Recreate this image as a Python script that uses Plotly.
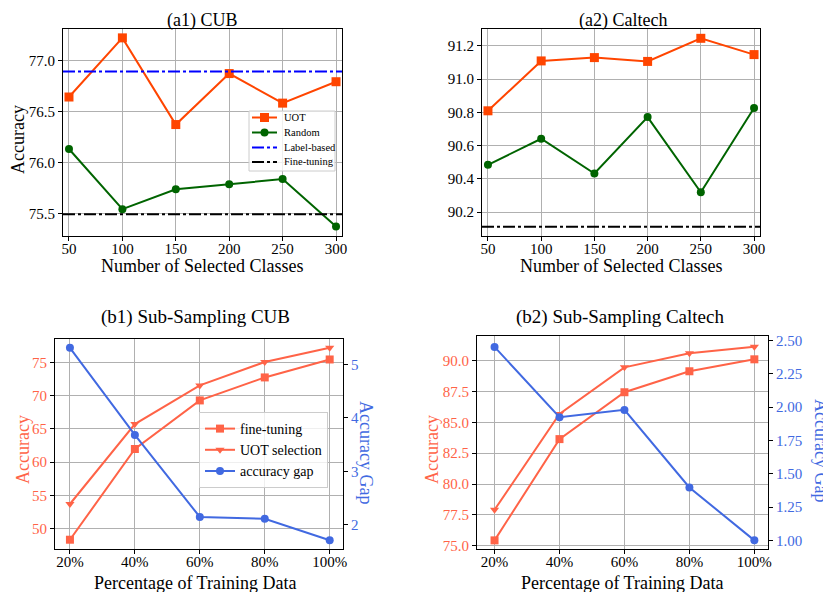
import plotly.graph_objects as go

# ---------------- data ----------------
classes = [50, 100, 150, 200, 250, 300]
cub_uot = [76.64, 77.22, 76.37, 76.87, 76.58, 76.79]
cub_random = [76.13, 75.54, 75.735, 75.785, 75.835, 75.37]
cub_label_based = 76.89
cub_finetune = 75.49

cal_uot = [90.81, 91.11, 91.13, 91.107, 91.246, 91.148]
cal_random = [90.485, 90.642, 90.433, 90.772, 90.32, 90.827]
cal_finetune = 90.113

pct = [20, 40, 60, 80, 100]
pct_labels = ["20%", "40%", "60%", "80%", "100%"]
b1_finetune = [48.29, 61.98, 69.31, 72.78, 75.49]
b1_uot = [53.68, 65.75, 71.58, 75.11, 77.27]
b1_gap = [5.31, 3.68, 2.144, 2.11, 1.71]

b2_finetune = [75.43, 83.64, 87.44, 89.14, 90.11]
b2_uot = [77.91, 85.68, 89.46, 90.60, 91.13]
b2_gap = [2.453, 1.925, 1.98, 1.397, 1.00]

a1_legend_names = ["UOT", "Random", "Label-based", "Fine-tuning"]

# ---------------- style ----------------
FONT = "Liberation Serif"
W, H = 831, 592
OFF = 8  # page body margin
ORANGE = "#FF4500"
GREEN = "#006400"
BLUE = "#0000FF"
TOMATO = "#FF6347"
ROYAL = "#4169E1"
DASHDOT = "12px,3px,3px,3px"

def fx(px):
    return (px - OFF) / W

def fy(py):
    return 1 - (py - OFF) / H

def px_x(a, b):
    return [fx(a), fx(b)]

def px_y(top, bottom):
    return [fy(bottom), fy(top)]

fig = go.Figure()

# ---- (a1) CUB ----
fig.add_trace(go.Scatter(x=classes, y=cub_uot, name="UOT", mode="lines+markers", showlegend=False,
                         line=dict(color=ORANGE, width=2), marker=dict(symbol="square", size=9, color=ORANGE),
                         xaxis="x", yaxis="y"))
fig.add_trace(go.Scatter(x=classes, y=cub_random, name="Random", mode="lines+markers", showlegend=False,
                         line=dict(color=GREEN, width=2), marker=dict(symbol="circle", size=8, color=GREEN),
                         xaxis="x", yaxis="y"))

# ---- (a2) Caltech ----
fig.add_trace(go.Scatter(x=classes, y=cal_uot, name="UOT", mode="lines+markers", showlegend=False,
                         line=dict(color=ORANGE, width=2), marker=dict(symbol="square", size=9, color=ORANGE),
                         xaxis="x2", yaxis="y2"))
fig.add_trace(go.Scatter(x=classes, y=cal_random, name="Random", mode="lines+markers", showlegend=False,
                         line=dict(color=GREEN, width=2), marker=dict(symbol="circle", size=8, color=GREEN),
                         xaxis="x2", yaxis="y2"))

# ---- (b1) ----
fig.add_trace(go.Scatter(x=pct, y=b1_finetune, name="fine-tuning", mode="lines+markers",
                         line=dict(color=TOMATO, width=2), marker=dict(symbol="square", size=8, color=TOMATO),
                         xaxis="x3", yaxis="y3"))
fig.add_trace(go.Scatter(x=pct, y=b1_uot, name="UOT selection", mode="lines+markers",
                         line=dict(color=TOMATO, width=2), marker=dict(symbol="triangle-down", size=8, color=TOMATO),
                         xaxis="x3", yaxis="y3"))
fig.add_trace(go.Scatter(x=pct, y=b1_gap, name="accuracy gap", mode="lines+markers",
                         line=dict(color=ROYAL, width=2), marker=dict(symbol="circle", size=8, color=ROYAL),
                         xaxis="x3", yaxis="y4"))

# ---- (b2) ----
fig.add_trace(go.Scatter(x=pct, y=b2_finetune, name="fine-tuning", mode="lines+markers", showlegend=False,
                         line=dict(color=TOMATO, width=2), marker=dict(symbol="square", size=8, color=TOMATO),
                         xaxis="x4", yaxis="y5"))
fig.add_trace(go.Scatter(x=pct, y=b2_uot, name="UOT selection", mode="lines+markers", showlegend=False,
                         line=dict(color=TOMATO, width=2), marker=dict(symbol="triangle-down", size=8, color=TOMATO),
                         xaxis="x4", yaxis="y5"))
fig.add_trace(go.Scatter(x=pct, y=b2_gap, name="accuracy gap", mode="lines+markers", showlegend=False,
                         line=dict(color=ROYAL, width=2), marker=dict(symbol="circle", size=8, color=ROYAL),
                         xaxis="x4", yaxis="y6"))

# horizontal reference lines
shapes = [
    dict(type="line", xref="x domain", yref="y", x0=0, x1=1, y0=cub_label_based, y1=cub_label_based,
         line=dict(color=BLUE, width=2, dash=DASHDOT)),
    dict(type="line", xref="x domain", yref="y", x0=0, x1=1, y0=cub_finetune, y1=cub_finetune,
         line=dict(color="black", width=2, dash=DASHDOT)),
    dict(type="line", xref="x2 domain", yref="y2", x0=0, x1=1, y0=cal_finetune, y1=cal_finetune,
         line=dict(color="black", width=2, dash=DASHDOT)),
]

# ---- compact legend for (a1), matplotlib-like ----
LG_L, LG_R, LG_T, LG_B = 249, 335, 111, 171
shapes.append(dict(type="rect", xref="paper", yref="paper", x0=fx(LG_L), x1=fx(LG_R), y0=fy(LG_B), y1=fy(LG_T),
                   fillcolor="rgba(255,255,255,0.8)", line=dict(color="#cccccc", width=1)))
lg_rows = [117.5, 132.5, 147.5, 162.0]
lg_styles = [(ORANGE, "solid", "square"), (GREEN, "solid", "circle"),
             (BLUE, DASHDOT, None), ("black", DASHDOT, None)]
legend_annotations = []
for name, row, (col, dash, mk) in zip(a1_legend_names, lg_rows, lg_styles):
    shapes.append(dict(type="line", xref="paper", yref="paper", x0=fx(252), x1=fx(277), y0=fy(row), y1=fy(row),
                       line=dict(color=col, width=2, dash=dash)))
    if mk == "square":
        shapes.append(dict(type="rect", xref="paper", yref="paper", x0=fx(260), x1=fx(269),
                           y0=fy(row + 4.5), y1=fy(row - 4.5), fillcolor=col, line=dict(width=0)))
    elif mk == "circle":
        shapes.append(dict(type="circle", xref="paper", yref="paper", x0=fx(260.5), x1=fx(268.5),
                           y0=fy(row + 4), y1=fy(row - 4), fillcolor=col, line=dict(width=0)))
    legend_annotations.append(dict(text=name, x=fx(282), y=fy(row), xref="paper", yref="paper",
                                   showarrow=False, xanchor="left", yanchor="middle",
                                   font=dict(family=FONT, size=10.5, color="black")))

tickfont = dict(family=FONT, size=15, color="black")
base_ax = dict(showline=True, linecolor="black", linewidth=1, mirror=True, showgrid=True,
               gridcolor="#b0b0b0", gridwidth=1, ticks="outside", ticklen=4, tickcolor="black",
               zeroline=False, tickfont=tickfont, automargin=False)

def xax(domain, rng, anchor, tickvals, ticktext=None):
    d = dict(base_ax, domain=domain, range=rng, anchor=anchor, tickvals=tickvals, ticklabelstandoff=-5)
    if ticktext is not None:
        d["ticktext"] = ticktext
    return d

def yax(domain, rng, anchor, tickvals, fmt, color="black"):
    return dict(base_ax, domain=domain, range=rng, anchor=anchor, tickvals=tickvals, tickformat=fmt,
                tickfont=dict(family=FONT, size=15, color=color))

a1x = px_x(63, 342); a1y = px_y(29, 236)
a2x = px_x(482, 760); a2y = px_y(29, 236)
b1x = px_x(55, 343); b1y = px_y(339, 549)
b2x = px_x(477, 768); b2y = px_y(336, 549)

layout = dict(
    width=W, height=H, margin=dict(l=0, r=0, t=0, b=0, autoexpand=False),
    paper_bgcolor="white", plot_bgcolor="white",
    font=dict(family=FONT, color="black"),
    xaxis=xax(a1x, [44.4, 305.6], "y", classes),
    yaxis=yax(a1y, [75.277, 77.307], "x", [75.5, 76.0, 76.5, 77.0], ".1f"),
    xaxis2=xax(a2x, [44.4, 305.6], "y2", classes),
    yaxis2=yax(a2y, [90.057, 91.302], "x2", [90.2, 90.4, 90.6, 90.8, 91.0, 91.2], ".1f"),
    xaxis3=xax(b1x, [15.4, 104.1], "y3", pct, pct_labels),
    yaxis3=yax(b1y, [46.89, 78.58], "x3", [50, 55, 60, 65, 70, 75], "d", TOMATO),
    yaxis4=dict(yax(b1y, [1.545, 5.475], "x3", [2, 3, 4, 5], "d", ROYAL),
                overlaying="y3", side="right", showgrid=False, mirror=False),
    xaxis4=xax(b2x, [14.6, 104.2], "y5", pct, pct_labels),
    yaxis5=yax(b2y, [74.73, 92.0], "x4", [75.0, 77.5, 80.0, 82.5, 85.0, 87.5, 90.0], ".1f", TOMATO),
    yaxis6=dict(yax(b2y, [0.935, 2.535], "x4", [1.0, 1.25, 1.5, 1.75, 2.0, 2.25, 2.5], ".2f", ROYAL),
                overlaying="y5", side="right", showgrid=False, mirror=False),
    legend=dict(x=fx(199), y=fy(412), xanchor="left", yanchor="top",
                bgcolor="rgba(255,255,255,0.8)", bordercolor="#cccccc", borderwidth=1,
                font=dict(family=FONT, size=14), tracegroupgap=0, itemwidth=30),
    shapes=shapes,
)

def ann(text, x, y, size, color="black", angle=0, yanchor="middle"):
    return dict(text=text, x=fx(x), y=fy(y), xref="paper", yref="paper", showarrow=False,
                xanchor="center", yanchor=yanchor, textangle=angle,
                font=dict(family=FONT, size=size, color=color))

layout["annotations"] = [
    ann("(a1) CUB", 202, OFF, 18, yanchor="top"),
    ann("(a2) Caltech", 623, OFF, 18, yanchor="top"),
    ann("Number of Selected Classes", 202, 266, 18),
    ann("Number of Selected Classes", 621, 266, 18),
    ann("Accuracy", 18, 140, 18, angle=-90),
    ann("(b1) Sub-Sampling CUB", 195, 317, 19),
    ann("(b2) Sub-Sampling Caltech", 620, 317, 19),
    ann("Percentage of Training Data", 195, 583, 18),
    ann("Percentage of Training Data", 622, 583, 18),
    ann("Accuracy", 23, 450, 18, TOMATO, -90),
    ann("Accuracy Gap", 366, 452, 18, ROYAL, 90),
    ann("Accuracy", 432, 450, 18, TOMATO, -90),
    ann("Accuracy Gap", 821, 450, 18, ROYAL, 90),
] + legend_annotations

fig.update_layout(**layout)
fig.write_html("out.html")
